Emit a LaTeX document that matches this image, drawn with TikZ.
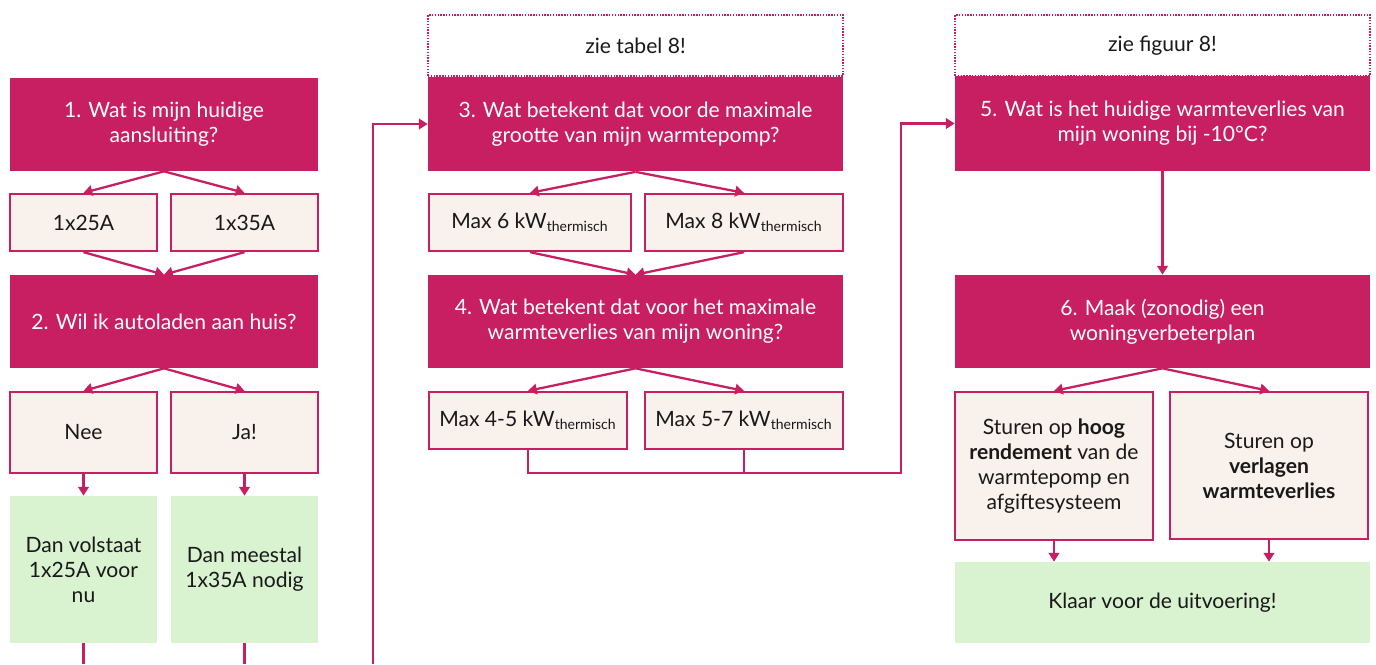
\documentclass[tikz,border=0pt]{standalone}
\usepackage{fontspec}
\setmainfont{Lato}
\usetikzlibrary{arrows.meta,positioning}
\definecolor{qcolor}{RGB}{200,30,98}
\definecolor{optcolor}{RGB}{249,241,236}
\definecolor{endcolor}{RGB}{217,242,208}
\definecolor{txtcolor}{RGB}{25,25,25}
\newcommand{\kwth}[1]{Max #1 kW\textsubscript{thermisch}}

\begin{document}
\begin{tikzpicture}[x=0.02cm, y=-0.02cm,
    boxfont/.style={font=\fontsize{12}{14.2}\selectfont},
    qbox/.style={boxfont, fill=qcolor, text=white, align=center, inner sep=0pt,
      minimum height=1.86cm},
    optbox/.style={boxfont, fill=optcolor, draw=qcolor, line width=1.3pt, text=txtcolor,
      align=center, inner sep=0pt, minimum width=2.94cm, minimum height=1.14cm},
    endbox/.style={boxfont, fill=endcolor, text=txtcolor, align=center, inner sep=0pt},
    notebox/.style={boxfont, draw=qcolor, line width=0.8pt, dash pattern=on 0.8pt off 0.8pt,
      text=txtcolor, minimum width=8.3cm, minimum height=1.22cm},
    flow/.style={draw=qcolor, line width=1.3pt, -{Triangle[length=5pt,width=6pt]}},
    plain/.style={draw=qcolor, line width=1.3pt}]
  \useasboundingbox (0,0) rectangle (1376,664);

  % first column: aansluiting
  \node[qbox, minimum width=6.16cm] (q1) at (164,124.5) {1. Wat is mijn huidige\\aansluiting?};
  \node[optbox] (a1) at (83.5,222.5) {1x25A};
  \node[optbox] (a2) at (244.5,222.5) {1x35A};
  \node[qbox, minimum width=6.16cm] (q2) at (164,321.5) {2. Wil ik autoladen aan huis?};
  \node[optbox, minimum height=1.62cm] (b1) at (83.5,432.5) {Nee};
  \node[optbox, minimum height=1.62cm] (b2) at (244.5,432.5) {Ja!};
  \node[endbox, minimum width=2.94cm, minimum height=2.94cm] (g1) at (83.5,569.5)
    {Dan volstaat\\1x25A voor\\nu};
  \node[endbox, minimum width=2.94cm, minimum height=2.94cm] (g2) at (244.5,569.5)
    {Dan meestal\\1x35A nodig};
  \coordinate (g1end) at (83.5,664);
  \coordinate (g2end) at (244.5,664);
  \coordinate (loop1) at (373,664);

  \draw[flow] (q1.south) -- (a1.north);
  \draw[flow] (q1.south) -- (a2.north);
  \draw[flow] (a1.south) -- (q2.north);
  \draw[flow] (a2.south) -- (q2.north);
  \draw[flow] (q2.south) -- (b1.north);
  \draw[flow] (q2.south) -- (b2.north);
  \draw[flow] (b1) -- (g1);
  \draw[flow] (b2) -- (g2);
  \draw[plain] (g1) -- (g1end);
  \draw[plain] (g2) -- (g2end);

  % second column: warmtepomp
  \node[notebox] (t1) at (635.5,45.5) {zie tabel 8!};
  \node[qbox, minimum width=8.3cm, minimum height=1.9cm] (q3) at (635.5,124)
    {3. Wat betekent dat voor de maximale\\grootte van mijn warmtepomp?};
  \node[optbox, minimum width=4.04cm] (c1) at (530,222.5) {\kwth{6}};
  \node[optbox, minimum width=3.96cm] (c2) at (744,222.5) {\kwth{8}};
  \node[qbox, minimum width=8.3cm] (q4) at (635.5,321.5)
    {4. Wat betekent dat voor het maximale\\warmteverlies van mijn woning?};
  \node[optbox, minimum width=3.96cm] (d1) at (528,420.5) {\kwth{4-5}};
  \node[optbox, minimum width=3.96cm] (d2) at (744,420.5) {\kwth{5-7}};
  \coordinate (loop2) at (901,473);

  \draw[flow] (loop1) |- (q3.west);
  \draw[flow] (q3.south) -- (c1.north);
  \draw[flow] (q3.south) -- (c2.north);
  \draw[flow] (c1.south) -- (q4.north);
  \draw[flow] (c2.south) -- (q4.north);
  \draw[flow] (q4.south) -- (d1.north);
  \draw[flow] (q4.south) -- (d2.north);
  \draw[plain] (d2.south) -- (d2.south |- loop2);

  % third column: woning
  \node[notebox] (t2) at (1162.5,45.5) {zie figuur 8!};
  \node[qbox, minimum width=8.3cm, minimum height=1.9cm] (q5) at (1162.5,123.5)
    {5. Wat is het huidige warmteverlies van\\mijn woning bij -10°C?};
  \node[qbox, minimum width=8.3cm] (q6) at (1162.5,321.5)
    {6. Maak (zonodig) een\\woningverbeterplan};
  \node[optbox, minimum width=3.96cm, minimum height=2.96cm] (e1) at (1054,466)
    {Sturen op \textbf{hoog}\\\textbf{rendement} van de\\warmtepomp en\\afgiftesysteem};
  \node[optbox, minimum width=3.96cm, minimum height=2.94cm] (e2) at (1269,465.5)
    {Sturen op\\\textbf{verlagen}\\\textbf{warmteverlies}};
  \node[endbox, minimum width=8.3cm, minimum height=1.62cm] (g3) at (1162.5,602.5)
    {Klaar voor de uitvoering!};

  \draw[flow] (d1.south) |- (loop2) |- (q5.west);
  \draw[flow] (q5) -- (q6);
  \draw[flow] (q6.south) -- (e1.north);
  \draw[flow] (q6.south) -- (e2.north);
  \draw[flow] (e1.south) -- (e1.south |- g3.north);
  \draw[flow] (e2.south) -- (e2.south |- g3.north);
\end{tikzpicture}
\end{document}
